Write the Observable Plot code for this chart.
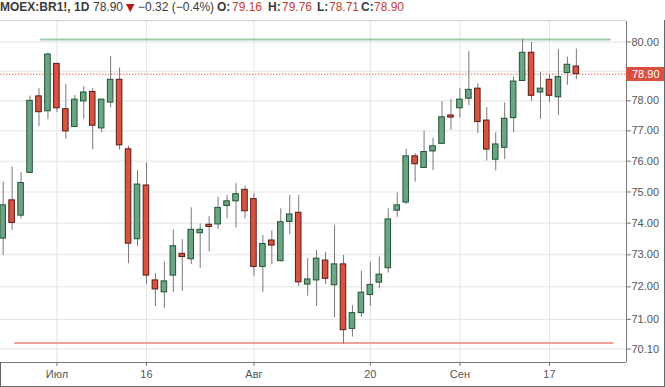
<!DOCTYPE html>
<html><head><meta charset="utf-8">
<script src="https://cdn.jsdelivr.net/npm/d3@7"></script>
<script src="https://cdn.jsdelivr.net/npm/@observablehq/plot@0.6"></script>
<style>
body{margin:0;background:#fff;}
#wrap{position:relative;width:665px;height:387px;overflow:hidden;background:#fff;}
#chart{position:absolute;left:0;top:0;}
.h{position:absolute;top:0;font-family:"Liberation Sans",Arial,sans-serif;font-size:12px;line-height:normal;white-space:nowrap;color:#3b3b3b;}
.b{font-weight:700;}
.r{color:#c23d33;}
.tri{color:#b01a1a;font-family:"DejaVu Sans",sans-serif;font-size:11px;top:1px;}
.ln{position:absolute;background:#555;}
#plab{position:absolute;left:626px;width:38px;height:14px;background:#d9503f;color:#fff;font:11px "Liberation Sans",Arial,sans-serif;line-height:14px;text-indent:6px;}
</style></head>
<body><div id="wrap"><div id="chart"></div><div id="hdr"></div></div>
<script>
// ---- data (daily candles, index 0 = first visible bar) ----
const opens  = [73.51,74.73,74.24,75.62,78.15,77.65,79.25,77.72,77.13,77.98,78.30,77.08,77.94,78.71,76.39,73.49,75.21,72.20,71.83,72.35,73.03,72.86,73.68,73.95,73.96,74.55,74.70,75.07,74.77,72.62,73.45,72.80,74.04,74.33,72.07,72.20,72.82,72.05,72.70,70.71,71.19,71.75,72.13,72.58,74.40,74.66,76.16,75.78,76.32,76.57,77.51,77.75,78.07,78.41,77.34,76.05,76.44,77.42,78.67,79.63,78.28,78.71,78.12,78.94,79.16];
const highs  = [75.32,75.81,75.63,78.16,78.41,79.62,79.27,78.55,78.18,78.48,78.41,78.06,79.51,79.11,76.49,75.69,75.95,72.41,72.77,73.79,73.48,74.49,73.98,74.22,74.83,74.89,75.27,75.19,74.94,73.61,73.76,74.46,74.89,74.89,72.88,73.14,73.08,73.93,72.98,71.42,72.49,72.77,72.93,74.46,74.97,76.39,76.25,76.99,76.76,77.97,78.05,78.41,79.67,78.57,77.77,76.94,77.93,78.80,80.09,79.99,78.96,78.88,79.74,79.48,79.76];
const lows   = [72.98,73.77,74.13,75.60,77.14,77.37,77.62,76.72,77.10,77.38,76.38,76.94,77.77,76.36,72.72,73.26,72.07,71.39,71.33,71.83,71.86,72.69,72.57,73.09,73.80,74.14,73.85,74.14,72.33,71.83,72.69,72.78,73.63,72.01,71.71,71.40,72.07,71.05,70.25,70.46,71.06,71.40,71.94,72.43,74.19,74.60,75.32,75.78,75.69,76.57,77.02,77.42,77.84,76.91,76.01,75.68,76.05,76.94,78.67,77.98,77.38,77.94,77.51,78.52,78.71];
const closes = [74.57,74.01,75.29,78.00,77.62,79.57,77.75,76.98,78.04,78.28,77.17,78.04,78.71,76.52,73.35,75.24,72.35,71.92,72.17,73.27,72.93,73.79,73.79,73.88,74.49,74.70,74.93,74.38,72.62,73.34,73.29,74.03,74.28,72.14,72.23,72.88,72.25,72.70,70.67,71.19,71.82,72.06,72.38,74.12,74.57,76.16,75.90,76.30,76.49,77.45,77.44,78.04,78.37,77.29,76.38,76.55,77.40,78.65,79.63,78.17,78.41,78.17,78.80,79.22,78.90];

// x axis: bar index of each tick and its label
const xTickIdx    = [6, 16, 28, 41, 51, 61];
const xTickLabels = ["Июл", "16", "Авг", "20", "Сен", "17"];
// y grid lines and the labelled y ticks (79.00 sits under the price tag)
const yGrid  = [80, 79, 78, 77, 76, 75, 74, 73, 72, 71, 70.10];
const yTicks = [80, 78, 77, 76, 75, 74, 73, 72, 71, 70.10];

// horizontal drawn levels
const levelPrice = [80.09, 70.28];
const levelFrom  = [4.2, 1.3];
const levelTo    = [67.9, 68.2];
const levelColor = ["#9fcbab", "#eea196"];

// header values
const symbolText = "MOEX:BR1!, 1D";
const lastPrice = 78.90, change = -0.32, changePct = -0.4;
const ohlcLabels = ["O:", "H:", "L:", "C:"];
const ohlcValues = [79.16, 79.76, 78.71, 78.90];

// ---- build ----
const bars = opens.map((o, i) => ({i, open: o, high: highs[i], low: lows[i], close: closes[i], up: closes[i] >= o}));
const levels = levelPrice.map((p, k) => ({p, x1: levelFrom[k], x2: levelTo[k], c: levelColor[k]}));
const xDomain = [-0.297, 69.6];
const yDomain = [69.694, 80.709];

const chart = Plot.plot({
  width: 665, height: 387,
  marginTop: 21, marginRight: 39, marginBottom: 25, marginLeft: 0,
  style: {fontFamily: "Liberation Sans, Arial, sans-serif", fontSize: "11px", color: "#555", background: "#fff"},
  x: {type: "linear", domain: xDomain},
  y: {type: "log", domain: yDomain},
  color: {type: "identity"},
  marks: [
    Plot.gridY(yGrid, {stroke: "#e4e4e4", strokeOpacity: 1}),
    Plot.gridX(xTickIdx, {stroke: "#e4e4e4", strokeOpacity: 1}),
    Plot.ruleY(levels, {y: "p", x1: "x1", x2: "x2", stroke: "c", strokeWidth: 2}),
    Plot.ruleY([lastPrice], {stroke: "#e0685a", strokeDasharray: "1.5,1.5", strokeWidth: 1}),
    Plot.ruleX(bars, {x: "i", y1: "low", y2: "high", stroke: "#79797b", strokeWidth: 1, clip: true}),
    Plot.rect(bars, {x1: d => d.i - 0.31, x2: d => d.i + 0.31, y1: "open", y2: "close",
      fill: d => d.up ? "#6ba583" : "#d75442", stroke: d => d.up ? "#225437" : "#5b1a13", strokeWidth: 1, clip: true}),
    Plot.ruleX([xDomain[1]], {y1: yDomain[0], y2: yDomain[1], stroke: "#777"}),
    Plot.ruleY([yDomain[0]], {x1: xDomain[0], x2: xDomain[1], stroke: "#777"}),
    Plot.axisY(yTicks, {anchor: "right", tickFormat: d => d.toFixed(2), tickSize: 4, tickPadding: 1, label: null, stroke: "#777", fill: "#555"}),
    Plot.axisX(xTickIdx, {anchor: "bottom", tickFormat: d => xTickLabels[xTickIdx.indexOf(d)], tickSize: 4, tickPadding: 4, label: null, stroke: "#777", fill: "#555"})
  ]
});
document.getElementById("chart").appendChild(chart);

// header
const hdr = document.getElementById("hdr");
const fmt = v => v.toFixed(2);
const segs = [
  {t: symbolText, x: 0, cls: "b"},
  {t: fmt(lastPrice), x: 93, cls: ""},
  {t: "▼", x: 126, cls: "tri"},
  {t: "−" + Math.abs(change).toFixed(2) + " (−" + Math.abs(changePct).toFixed(1) + "%)", x: 138, cls: ""}
];
const labelX = [217, 268, 317, 361], valueX = [232, 282, 329, 374];
ohlcLabels.forEach((l, k) => {
  segs.push({t: l, x: labelX[k], cls: "b"});
  segs.push({t: fmt(ohlcValues[k]), x: valueX[k], cls: "r"});
});
segs.forEach(s => {
  const sp = document.createElement("span");
  sp.className = "h " + s.cls;
  sp.style.left = s.x + "px";
  sp.textContent = s.t;
  hdr.appendChild(sp);
});

// last-price tag on the right axis, placed with the chart's y scale
const ys = chart.scale("y");
const tag = document.createElement("div");
tag.id = "plab";
tag.style.top = (ys.apply(lastPrice) - 6.5) + "px";
tag.textContent = fmt(lastPrice);
hdr.appendChild(tag);

// frame lines
const line = (l, t, w, h, c) => { const d = document.createElement("div"); d.className = "ln"; Object.assign(d.style, {left: l + "px", top: t + "px", width: w + "px", height: h + "px", background: c}); hdr.appendChild(d); };
line(0, 20, 626, 1, "#d0d0d0");
line(664, 20, 1, 367, "#666");
line(0, 386, 665, 1, "#666");
line(0, 362, 1, 25, "#666");
</script>
</body></html>
